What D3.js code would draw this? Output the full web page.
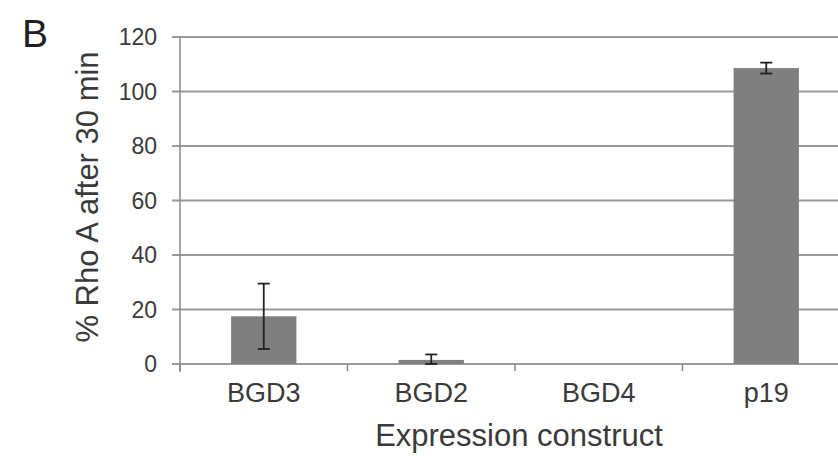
<!DOCTYPE html>
<html><head><meta charset="utf-8">
<script src="https://cdn.jsdelivr.net/npm/d3@7"></script>
<style>body{margin:0;background:#fff}svg{display:block}text{font-family:"Liberation Sans",Arial,sans-serif}</style>
</head><body><svg id="c" width="838" height="457"></svg>
<script>
const categories = ["BGD3","BGD2","BGD4","p19"];
const values = [17.5, 1.5, 0, 108.6];
const errors = [12, 2, 0, 2];
const yTicks = [0,20,40,60,80,100,120];

const svg = d3.select("#c");
const W = 838;
const x = d3.scaleBand().domain(categories).range([180, 850]).paddingInner(0.61).paddingOuter(0.305);
const y = d3.scaleLinear().domain([0,120]).range([364, 37]);
const txt = "#3a3a3a";

// gridlines
svg.append("g").selectAll("line").data(yTicks).join("line")
  .attr("x1",172).attr("x2",W).attr("y1",d=>y(d)).attr("y2",d=>y(d))
  .attr("stroke","#9a9a9a").attr("stroke-width",1.8);

// y axis line
svg.append("line").attr("x1",180).attr("x2",180).attr("y1",y(120)).attr("y2",y(0)+8)
  .attr("stroke","#8a8a8a").attr("stroke-width",1.5);

// x ticks
const bw = x.step();
svg.append("g").selectAll("line").data(d3.range(categories.length+1)).join("line")
  .attr("x1",i=>180+i*bw).attr("x2",i=>180+i*bw).attr("y1",y(0)).attr("y2",y(0)+7)
  .attr("stroke","#8a8a8a").attr("stroke-width",1.5);

// y tick labels
svg.append("g").selectAll("text").data(yTicks).join("text")
  .attr("x",157).attr("y",d=>y(d)).attr("dy","0.35em").attr("text-anchor","end")
  .attr("font-size",23).attr("fill",txt).text(d=>d);

// bars
svg.append("g").selectAll("rect").data(categories).join("rect")
  .attr("x",d=>x(d)).attr("width",x.bandwidth())
  .attr("y",(d,i)=>y(values[i])).attr("height",(d,i)=>y(0)-y(values[i]))
  .attr("fill","#7f7f7f");

// error bars
const eg = svg.append("g").attr("stroke","#222").attr("stroke-width",1.8);
categories.forEach((c,i)=>{
  if(errors[i]<=0) return;
  const cx = x(c)+x.bandwidth()/2;
  const y1 = y(values[i]+errors[i]), y2 = y(Math.max(0,values[i]-errors[i]));
  eg.append("line").attr("x1",cx).attr("x2",cx).attr("y1",y1).attr("y2",y2);
  eg.append("line").attr("x1",cx-6).attr("x2",cx+6).attr("y1",y1).attr("y2",y1);
  eg.append("line").attr("x1",cx-6).attr("x2",cx+6).attr("y1",y2).attr("y2",y2);
});

// x labels
svg.append("g").selectAll("text").data(categories).join("text")
  .attr("x",d=>x(d)+x.bandwidth()/2).attr("y",402).attr("text-anchor","middle")
  .attr("font-size",27).attr("fill",txt).text(d=>d);

// axis titles
svg.append("text").attr("x",519).attr("y",446).attr("text-anchor","middle")
  .attr("font-size",31).attr("fill",txt).text("Expression construct");
svg.append("text").attr("transform","translate(98,197) rotate(-90)").attr("text-anchor","middle")
  .attr("font-size",31).attr("fill",txt).text("% Rho A after 30 min");
svg.append("text").attr("x",22).attr("y",47).attr("font-size",39).attr("fill","#1e1e1e").text("B");
</script></body></html>
